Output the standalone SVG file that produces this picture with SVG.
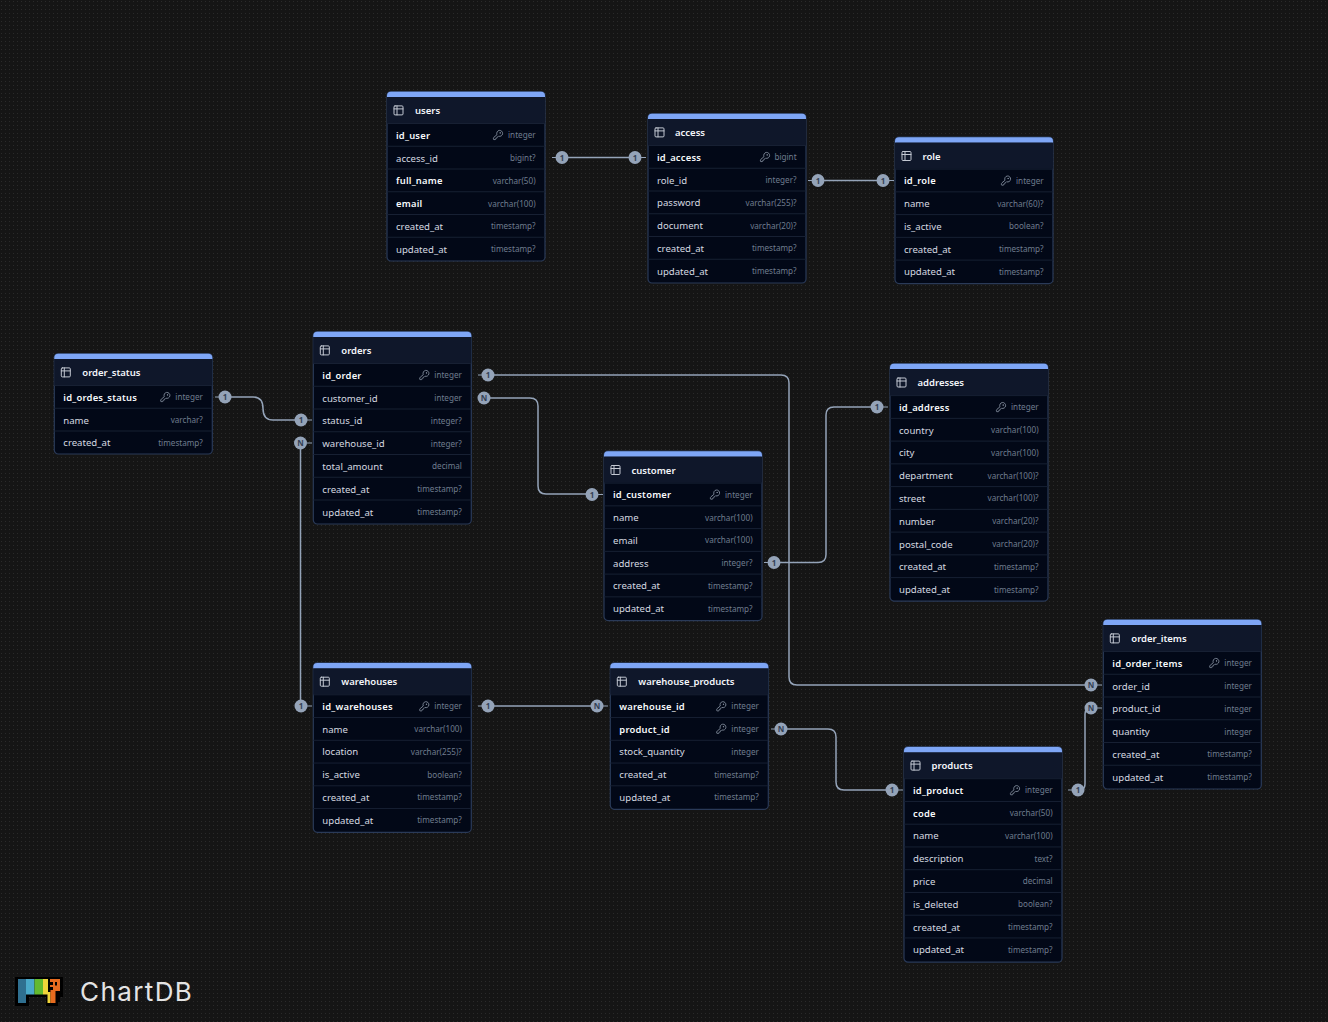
<svg xmlns="http://www.w3.org/2000/svg" width="1328" height="1022" viewBox="0 0 1328 1022">
<style>
text{font-family:"Noto Sans","Liberation Sans",sans-serif}
.body{fill:#020817;stroke:#2a3a58;stroke-width:1.2}
.head{fill:#0f172a}
.strip{fill:#7ea6f6}
.sep{stroke:#172033;stroke-width:1;fill:none}
.t{font-size:9.500px;font-weight:600;fill:#f4f6fa}
.f{font-size:9.600px;fill:#d5d9e0}
.k{font-size:9.400px;font-weight:600;fill:#f8fafc;letter-spacing:.22px}
.y{font-size:8.150px;fill:#6f7c8e;text-anchor:end}
.ico{fill:none;stroke:#c3c8d2;stroke-width:2;stroke-linecap:round;stroke-linejoin:round}
.key{fill:none;stroke:#8c96a6;stroke-width:1.800;stroke-linecap:round;stroke-linejoin:round}
.line{fill:none;stroke:#94a3b8;stroke-width:1.500}
.stub{stroke:#94a3b8;stroke-width:1.200}
.dot{fill:#94a3b8}
.b{font-size:8px;font-weight:700;fill:#334155;text-anchor:middle}
</style>
<defs>
<pattern id="grid" width="4" height="4" patternUnits="userSpaceOnUse"><rect width="4" height="4" fill="#151515"/><rect x="1" y="1" width="1" height="1" fill="#2a2a2a"/></pattern>
<symbol id="tbl" viewBox="0 0 24 24" overflow="visible"><path class="ico" d="M5 3h14a2 2 0 0 1 2 2v14a2 2 0 0 1-2 2H5a2 2 0 0 1-2-2V5a2 2 0 0 1 2-2zM9 3v18M3 9h18"/></symbol>
<symbol id="kk" viewBox="0 0 24 24" overflow="visible"><path class="key" d="M2.586 17.414A2 2 0 0 0 2 18.828V21a1 1 0 0 0 1 1h3a1 1 0 0 0 1-1v-1a1 1 0 0 1 1-1h1a1 1 0 0 0 1-1v-1a1 1 0 0 1 1-1h.172a2 2 0 0 0 1.414-.586l.814-.814a6.5 6.5 0 1 0-4-4z"/><circle class="key" cx="16.500" cy="7.500" r=".5"/></symbol>
<path id="strip" class="strip" d="M0 6V4.700a4 4 0 0 1 4-4H154a4 4 0 0 1 4 4V6z"/>
</defs>
<rect width="1328" height="1022" fill="url(#grid)"/>

<g id="connectors">
<path class="line" d="M562 157.500H635"/>
<path class="line" d="M818 180.500H883"/>
<path class="line" d="M225 397H253Q263 397 263 408.500Q263 420 273 420H301"/>
<path class="line" d="M300.500 443V706"/>
<path class="line" d="M488 375H781Q789 375 789 383V677Q789 685 797 685H1091"/>
<path class="line" d="M484 398H530Q538 398 538 406V486Q538 494 546 494H592"/>
<path class="line" d="M774 562.500H818Q826 562.500 826 554.500V415Q826 407 834 407H877"/>
<path class="line" d="M488 706H597"/>
<path class="line" d="M781 729H828Q836 729 836 737V782Q836 790 844 790H892"/>
<path class="line" d="M1078 790H1079Q1085 790 1085 784V714Q1085 708 1091 708"/>
<g class="stub"><path d="M552 157.500h4M641 157.500h5M808 180.500h4M889 180.500h5M215 397h4M307 420h5M307 443h5M307 706h5M478 375h4M478 398h4M598 494.500h5M764 562.500h4M883 407h5M478 706h4M603 706h5M771 729h4M898 790h5M1068 790h4M1097 685h5M1097 708h5"/></g>
<circle class="dot" cx="562" cy="157.500" r="6.500"/><text class="b" x="562" y="160.500">1</text>
<circle class="dot" cx="635" cy="157.500" r="6.500"/><text class="b" x="635" y="160.500">1</text>
<circle class="dot" cx="818" cy="180.500" r="6.500"/><text class="b" x="818" y="183.500">1</text>
<circle class="dot" cx="883" cy="180.500" r="6.500"/><text class="b" x="883" y="183.500">1</text>
<circle class="dot" cx="225" cy="397" r="6.500"/><text class="b" x="225" y="400">1</text>
<circle class="dot" cx="301" cy="420" r="6.500"/><text class="b" x="301" y="423">1</text>
<circle class="dot" cx="300.500" cy="443" r="6.500"/><text class="b" x="300.500" y="446">N</text>
<circle class="dot" cx="301" cy="706" r="6.500"/><text class="b" x="301" y="709">1</text>
<circle class="dot" cx="488" cy="375" r="6.500"/><text class="b" x="488" y="378">1</text>
<circle class="dot" cx="484" cy="398" r="6.500"/><text class="b" x="484" y="401">N</text>
<circle class="dot" cx="592" cy="494.500" r="6.500"/><text class="b" x="592" y="497.500">1</text>
<circle class="dot" cx="774" cy="562.500" r="6.500"/><text class="b" x="774" y="565.500">1</text>
<circle class="dot" cx="877" cy="407" r="6.500"/><text class="b" x="877" y="410">1</text>
<circle class="dot" cx="488" cy="706" r="6.500"/><text class="b" x="488" y="709">1</text>
<circle class="dot" cx="597" cy="706" r="6.500"/><text class="b" x="597" y="709">N</text>
<circle class="dot" cx="781" cy="729" r="6.500"/><text class="b" x="781" y="732">N</text>
<circle class="dot" cx="892" cy="790" r="6.500"/><text class="b" x="892" y="793">1</text>
<circle class="dot" cx="1078" cy="790" r="6.500"/><text class="b" x="1078" y="793">1</text>
<circle class="dot" cx="1091" cy="685" r="6.500"/><text class="b" x="1091" y="688">N</text>
<circle class="dot" cx="1091" cy="708" r="6.500"/><text class="b" x="1091" y="711">N</text>
</g>

<g id="users" transform="translate(387,91)">
<rect class="body" y=".5" width="158" height="169.500" rx="4"/><rect class="head" y="6" width="158" height="26"/><use href="#strip"/>
<use href="#tbl" x="5.500" y="13.400" width="12" height="12"/><text class="t" x="28" y="23.200">users</text>
<path class="sep" d="M0 32.500H158M0 55.250H158M0 78H158M0 100.750H158M0 123.500H158M0 146.250H158"/>
<text class="k" x="9" y="47.500">id_user</text><use href="#kk" x="105.500" y="38.500" width="11" height="11"/><text class="y" x="148.600" y="47">integer</text>
<text class="f" x="9" y="70.500">access_id</text><text class="y" x="148.600" y="70">bigint?</text>
<text class="k" x="9" y="93">full_name</text><text class="y" x="148.600" y="92.500">varchar(50)</text>
<text class="k" x="9" y="116">email</text><text class="y" x="148.600" y="115.500">varchar(100)</text>
<text class="f" x="9" y="138.500">created_at</text><text class="y" x="148.600" y="138">timestamp?</text>
<text class="f" x="9" y="161.500">updated_at</text><text class="y" x="148.600" y="161">timestamp?</text>
</g>

<g id="access" transform="translate(648,113)">
<rect class="body" y=".5" width="158" height="169.500" rx="4"/><rect class="head" y="6" width="158" height="26"/><use href="#strip"/>
<use href="#tbl" x="5.500" y="13.400" width="12" height="12"/><text class="t" x="27" y="23.200">access</text>
<path class="sep" d="M0 32.500H158M0 55.250H158M0 78H158M0 100.750H158M0 123.500H158M0 146.250H158"/>
<text class="k" x="9" y="47.500">id_access</text><use href="#kk" x="111.500" y="38.500" width="11" height="11"/><text class="y" x="148.600" y="47">bigint</text>
<text class="f" x="9" y="70.500">role_id</text><text class="y" x="148.600" y="70">integer?</text>
<text class="f" x="9" y="93">password</text><text class="y" x="148.600" y="92.500">varchar(255)?</text>
<text class="f" x="9" y="116">document</text><text class="y" x="148.600" y="115.500">varchar(20)?</text>
<text class="f" x="9" y="138.500">created_at</text><text class="y" x="148.600" y="138">timestamp?</text>
<text class="f" x="9" y="161.500">updated_at</text><text class="y" x="148.600" y="161">timestamp?</text>
</g>

<g id="role" transform="translate(895,136.600)">
<rect class="body" y=".5" width="158" height="146.500" rx="4"/><rect class="head" y="6" width="158" height="26"/><use href="#strip"/>
<use href="#tbl" x="5.500" y="13.400" width="12" height="12"/><text class="t" x="27.500" y="23.200">role</text>
<path class="sep" d="M0 32.500H158M0 55.250H158M0 78H158M0 100.750H158M0 123.500H158"/>
<text class="k" x="9" y="47.500">id_role</text><use href="#kk" x="105.500" y="38.500" width="11" height="11"/><text class="y" x="148.600" y="47">integer</text>
<text class="f" x="9" y="70.500">name</text><text class="y" x="148.600" y="70">varchar(60)?</text>
<text class="f" x="9" y="93">is_active</text><text class="y" x="148.600" y="92.500">boolean?</text>
<text class="f" x="9" y="116">created_at</text><text class="y" x="148.600" y="115.500">timestamp?</text>
<text class="f" x="9" y="138.500">updated_at</text><text class="y" x="148.600" y="138">timestamp?</text>
</g>

<g id="order_status" transform="translate(54.300,353)">
<rect class="body" y=".5" width="158" height="100.500" rx="4"/><rect class="head" y="6" width="158" height="26"/><use href="#strip"/>
<use href="#tbl" x="5.500" y="13.400" width="12" height="12"/><text class="t" x="28" y="23.200">order_status</text>
<path class="sep" d="M0 32.500H158M0 55.250H158M0 78H158"/>
<text class="k" x="9" y="47.500">id_ordes_status</text><use href="#kk" x="105.500" y="38.500" width="11" height="11"/><text class="y" x="148.600" y="47">integer</text>
<text class="f" x="9" y="70.500">name</text><text class="y" x="148.600" y="70">varchar?</text>
<text class="f" x="9" y="93">created_at</text><text class="y" x="148.600" y="92.500">timestamp?</text>
</g>

<g id="orders" transform="translate(313.300,331)">
<rect class="body" y=".5" width="158" height="192.500" rx="4"/><rect class="head" y="6" width="158" height="26"/><use href="#strip"/>
<use href="#tbl" x="5.500" y="13.400" width="12" height="12"/><text class="t" x="28" y="23.200">orders</text>
<path class="sep" d="M0 32.500H158M0 55.250H158M0 78H158M0 100.750H158M0 123.500H158M0 146.250H158M0 169H158"/>
<text class="k" x="9" y="47.500">id_order</text><use href="#kk" x="105.500" y="38.500" width="11" height="11"/><text class="y" x="148.600" y="47">integer</text>
<text class="f" x="9" y="70.500">customer_id</text><text class="y" x="148.600" y="70">integer</text>
<text class="f" x="9" y="93">status_id</text><text class="y" x="148.600" y="92.500">integer?</text>
<text class="f" x="9" y="116">warehouse_id</text><text class="y" x="148.600" y="115.500">integer?</text>
<text class="f" x="9" y="138.500">total_amount</text><text class="y" x="148.600" y="138">decimal</text>
<text class="f" x="9" y="161.500">created_at</text><text class="y" x="148.600" y="161">timestamp?</text>
<text class="f" x="9" y="184.500">updated_at</text><text class="y" x="148.600" y="184">timestamp?</text>
</g>

<g id="addresses" transform="translate(890,363.100)">
<rect class="body" y=".5" width="158" height="237.500" rx="4"/><rect class="head" y="6" width="158" height="26"/><use href="#strip"/>
<use href="#tbl" x="5.500" y="13.400" width="12" height="12"/><text class="t" x="27.500" y="23.200">addresses</text>
<path class="sep" d="M0 32.500H158M0 55.250H158M0 78H158M0 100.750H158M0 123.500H158M0 146.250H158M0 169H158M0 191.750H158M0 214.500H158"/>
<text class="k" x="9" y="47.500">id_address</text><use href="#kk" x="105.500" y="38.500" width="11" height="11"/><text class="y" x="148.600" y="47">integer</text>
<text class="f" x="9" y="70.500">country</text><text class="y" x="148.600" y="70">varchar(100)</text>
<text class="f" x="9" y="93">city</text><text class="y" x="148.600" y="92.500">varchar(100)</text>
<text class="f" x="9" y="116">department</text><text class="y" x="148.600" y="115.500">varchar(100)?</text>
<text class="f" x="9" y="138.500">street</text><text class="y" x="148.600" y="138">varchar(100)?</text>
<text class="f" x="9" y="161.500">number</text><text class="y" x="148.600" y="161">varchar(20)?</text>
<text class="f" x="9" y="184.500">postal_code</text><text class="y" x="148.600" y="184">varchar(20)?</text>
<text class="f" x="9" y="207">created_at</text><text class="y" x="148.600" y="206.500">timestamp?</text>
<text class="f" x="9" y="230">updated_at</text><text class="y" x="148.600" y="229.500">timestamp?</text>
</g>

<g id="customer" transform="translate(604,450.600)">
<rect class="body" y=".5" width="158" height="169.500" rx="4"/><rect class="head" y="6" width="158" height="26"/><use href="#strip"/>
<use href="#tbl" x="5.500" y="13.400" width="12" height="12"/><text class="t" x="27.500" y="23.200">customer</text>
<path class="sep" d="M0 32.500H158M0 55.250H158M0 78H158M0 100.750H158M0 123.500H158M0 146.250H158"/>
<text class="k" x="9" y="47.500">id_customer</text><use href="#kk" x="105.500" y="38.500" width="11" height="11"/><text class="y" x="148.600" y="47">integer</text>
<text class="f" x="9" y="70.500">name</text><text class="y" x="148.600" y="70">varchar(100)</text>
<text class="f" x="9" y="93">email</text><text class="y" x="148.600" y="92.500">varchar(100)</text>
<text class="f" x="9" y="116">address</text><text class="y" x="148.600" y="115.500">integer?</text>
<text class="f" x="9" y="138.500">created_at</text><text class="y" x="148.600" y="138">timestamp?</text>
<text class="f" x="9" y="161.500">updated_at</text><text class="y" x="148.600" y="161">timestamp?</text>
</g>

<g id="warehouses" transform="translate(313.300,662.300)">
<rect class="body" y=".5" width="158" height="169.500" rx="4"/><rect class="head" y="6" width="158" height="26"/><use href="#strip"/>
<use href="#tbl" x="5.500" y="13.400" width="12" height="12"/><text class="t" x="28" y="23.200">warehouses</text>
<path class="sep" d="M0 32.500H158M0 55.250H158M0 78H158M0 100.750H158M0 123.500H158M0 146.250H158"/>
<text class="k" x="9" y="47.500">id_warehouses</text><use href="#kk" x="105.500" y="38.500" width="11" height="11"/><text class="y" x="148.600" y="47">integer</text>
<text class="f" x="9" y="70.500">name</text><text class="y" x="148.600" y="70">varchar(100)</text>
<text class="f" x="9" y="93">location</text><text class="y" x="148.600" y="92.500">varchar(255)?</text>
<text class="f" x="9" y="116">is_active</text><text class="y" x="148.600" y="115.500">boolean?</text>
<text class="f" x="9" y="138.500">created_at</text><text class="y" x="148.600" y="138">timestamp?</text>
<text class="f" x="9" y="161.500">updated_at</text><text class="y" x="148.600" y="161">timestamp?</text>
</g>

<g id="warehouse_products" transform="translate(610.300,662.300)">
<rect class="body" y=".5" width="158" height="146.500" rx="4"/><rect class="head" y="6" width="158" height="26"/><use href="#strip"/>
<use href="#tbl" x="5.500" y="13.400" width="12" height="12"/><text class="t" x="28" y="23.200">warehouse_products</text>
<path class="sep" d="M0 32.500H158M0 55.250H158M0 78H158M0 100.750H158M0 123.500H158"/>
<text class="k" x="9" y="47.500">warehouse_id</text><use href="#kk" x="105.500" y="38.500" width="11" height="11"/><text class="y" x="148.600" y="47">integer</text>
<text class="k" x="9" y="70.500">product_id</text><use href="#kk" x="105.500" y="61" width="11" height="11"/><text class="y" x="148.600" y="70">integer</text>
<text class="f" x="9" y="93">stock_quantity</text><text class="y" x="148.600" y="92.500">integer</text>
<text class="f" x="9" y="116">created_at</text><text class="y" x="148.600" y="115.500">timestamp?</text>
<text class="f" x="9" y="138.500">updated_at</text><text class="y" x="148.600" y="138">timestamp?</text>
</g>

<g id="order_items" transform="translate(1103.300,619)">
<rect class="body" y=".5" width="158" height="169.500" rx="4"/><rect class="head" y="6" width="158" height="26"/><use href="#strip"/>
<use href="#tbl" x="5.500" y="13.400" width="12" height="12"/><text class="t" x="28" y="23.200">order_items</text>
<path class="sep" d="M0 32.500H158M0 55.250H158M0 78H158M0 100.750H158M0 123.500H158M0 146.250H158"/>
<text class="k" x="9" y="47.500">id_order_items</text><use href="#kk" x="105.500" y="38.500" width="11" height="11"/><text class="y" x="148.600" y="47">integer</text>
<text class="f" x="9" y="70.500">order_id</text><text class="y" x="148.600" y="70">integer</text>
<text class="f" x="9" y="93">product_id</text><text class="y" x="148.600" y="92.500">integer</text>
<text class="f" x="9" y="116">quantity</text><text class="y" x="148.600" y="115.500">integer</text>
<text class="f" x="9" y="138.500">created_at</text><text class="y" x="148.600" y="138">timestamp?</text>
<text class="f" x="9" y="161.500">updated_at</text><text class="y" x="148.600" y="161">timestamp?</text>
</g>

<g id="products" transform="translate(904,746.200)">
<rect class="body" y=".5" width="158" height="215.500" rx="4"/><rect class="head" y="6" width="158" height="26"/><use href="#strip"/>
<use href="#tbl" x="5.500" y="13.400" width="12" height="12"/><text class="t" x="27.500" y="23.200">products</text>
<path class="sep" d="M0 32.500H158M0 55.250H158M0 78H158M0 100.750H158M0 123.500H158M0 146.250H158M0 169H158M0 191.750H158"/>
<text class="k" x="9" y="47.500">id_product</text><use href="#kk" x="105.500" y="38.500" width="11" height="11"/><text class="y" x="148.600" y="47">integer</text>
<text class="k" x="9" y="70.500">code</text><text class="y" x="148.600" y="70">varchar(50)</text>
<text class="f" x="9" y="93">name</text><text class="y" x="148.600" y="92.500">varchar(100)</text>
<text class="f" x="9" y="116">description</text><text class="y" x="148.600" y="115.500">text?</text>
<text class="f" x="9" y="138.500">price</text><text class="y" x="148.600" y="138">decimal</text>
<text class="f" x="9" y="161.500">is_deleted</text><text class="y" x="148.600" y="161">boolean?</text>
<text class="f" x="9" y="184.500">created_at</text><text class="y" x="148.600" y="184">timestamp?</text>
<text class="f" x="9" y="207">updated_at</text><text class="y" x="148.600" y="206.500">timestamp?</text>
</g>

<g id="logo">
<path fill="#000" d="M15 977H63V997H60V1002H58V1006H46V997H29V1006H15z"/>
<rect x="18" y="979" width="8" height="24" fill="#2f6f8f"/>
<rect x="26" y="979" width="8.500" height="15.500" fill="#4aa9c9"/>
<rect x="34.500" y="979" width="8.500" height="15.500" fill="#63b92f"/>
<rect x="43" y="979" width="5" height="15.500" fill="#f0d53a"/>
<rect x="47.500" y="992" width="3" height="11" fill="#f0d53a"/>
<path fill="#e66b1f" fill-rule="evenodd" d="M50 979H60V991H55.500V1003H50.500V990H53V987H50V985H53V982H50zM55 982V985.500H57V982z"/>
<text x="80" y="1001" font-size="26" letter-spacing="1.400" fill="#e4e4e4" style="font-family:Inter,'Liberation Sans',sans-serif;font-weight:400">ChartDB</text>
</g>
</svg>
